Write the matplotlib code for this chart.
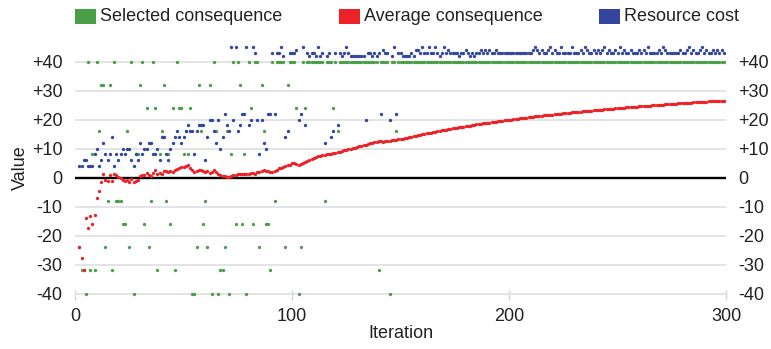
"""Selected consequence / average consequence / resource cost per iteration."""

import matplotlib
matplotlib.use("Agg")
import matplotlib.pyplot as plt
from matplotlib.patches import Rectangle

plt.rcParams["font.family"] = ["Liberation Sans", "DejaVu Sans"]

FIRST_ITER = 2
LAST_ITER = 299

# values, one per iteration (2..299), rows of 10 from i=10
SELECTED = [
    -24, -32, -32, -40, 40, -32, 8, -32,
    40, 16, 32, 32, -24, -8, 32, -32, 40, -8,
    -8, -8, -16, -16, 16, -24, 40, -40, 8, 8,
    32, 40, -16, 24, -24, -8, 40, 24, -32, 8,
    16, 32, -8, 8, -16, 24, -32, 40, 24, 24,
    8, 16, 8, 24, -40, -40, -24, 32, 16, -16,
    -8, -24, 32, -40, 40, 16, -40, -32, -32, -24,
    16, -40, 8, 40, -16, 40, 32, -16, 8, -40,
    40, 24, -16, 40, 40, -24, 32, 16, -16, -16,
    -32, 40, -8, 40, 40, 40, 40, -24, 32, 40,
    40, 40, 24, -40, -24, 40, 24, 40, 40, 40,
    40, 40, 40, 40, 40, -8, 40, 40, 40, 24,
    40, 16, 40, 40, 40, 40, 40, 40, 40, 40,
    40, 40, 40, 40, 40, 40, 40, 40, 40, 40,
    -32, 40, 40, 40, 40, -40, 40, 40, 16, 40,
    40, 40, 40, 40, 40, 40, 40, 40, 40, 40,
    40, 40, 40, 40, 40, 40, 40, 40, 40, 40,
    40, 40, 40, 40, 40, 40, 40, 40, 40, 40,
    40, 40, 40, 40, 40, 40, 40, 40, 40, 40,
    40, 40, 40, 40, 40, 40, 40, 40, 40, 40,
    40, 40, 40, 40, 40, 40, 40, 40, 40, 40,
    40, 40, 40, 40, 40, 40, 40, 40, 40, 40,
    40, 40, 40, 40, 40, 40, 40, 40, 40, 40,
    40, 40, 40, 40, 40, 40, 40, 40, 40, 40,
    40, 40, 40, 40, 40, 40, 40, 40, 40, 40,
    40, 40, 40, 40, 40, 40, 40, 40, 40, 40,
    40, 40, 40, 40, 40, 40, 40, 40, 40, 40,
    40, 40, 40, 40, 40, 40, 40, 40, 40, 40,
    40, 40, 40, 40, 40, 40, 40, 40, 40, 40,
    40, 40, 40, 40, 40, 40, 40, 40, 40, 40,
]

AVERAGE = [
    -23.8, -27.8, -31.8, -14.0, -17.4, -13.4, -15.9, -12.8,
    -7.0, -4.7, -1.5, 1.3, -0.7, -1.0, 1.0, -1.0, 1.3, 0.8,
    0.2, -0.1, -0.7, -1.3, -0.7, -1.6, -0.5, -1.6, -1.3, -0.7,
    0.5, 1.0, 0.8, 1.6, 1.0, 0.5, 1.6, 2.5, 1.4, 1.6,
    1.4, 2.2, 2.2, 1.9, 2.4, 2.0, 2.5, 3.0, 3.3, 3.5,
    3.7, 3.9, 4.2, 3.3, 2.5, 2.0, 2.2, 2.8, 2.8, 2.3,
    2.1, 2.2, 1.7, 2.1, 2.5, 1.8, 1.4, 1.0, 0.5, 0.5,
    0.3, 0.1, 0.5, 0.8, 0.8, 1.3, 1.4, 1.3, 1.4, 1.1,
    1.4, 1.6, 1.5, 1.4, 2.0, 2.1, 2.3, 2.5, 2.4, 2.2,
    2.0, 2.1, 2.3, 2.8, 3.2, 3.4, 3.7, 4.0, 4.3, 4.5,
    4.9, 5.1, 4.7, 4.3, 4.6, 5.0, 5.4, 5.8, 6.1, 6.5,
    6.9, 7.2, 7.3, 7.5, 7.7, 7.8, 8.0, 8.1, 8.3, 8.5,
    8.6, 8.8, 8.9, 9.1, 9.4, 9.6, 9.8, 10.0, 10.2, 10.4,
    10.6, 10.8, 11.0, 11.2, 11.4, 11.6, 11.8, 12.0, 12.2, 12.4,
    12.6, 12.7, 12.4, 12.6, 12.8, 12.7, 12.9, 13.0, 13.1, 13.2,
    13.29, 13.46, 13.64, 13.81, 13.98, 14.15, 14.31, 14.48, 14.64, 14.80,
    14.96, 15.11, 15.27, 15.42, 15.57, 15.72, 15.86, 16.01, 16.15, 16.29,
    16.43, 16.57, 16.70, 16.84, 16.97, 17.10, 17.23, 17.36, 17.49, 17.61,
    17.74, 17.86, 17.98, 18.10, 18.22, 18.34, 18.46, 18.57, 18.69, 18.80,
    18.91, 19.02, 19.13, 19.24, 19.35, 19.45, 19.56, 19.66, 19.76, 19.86,
    19.96, 20.06, 20.16, 20.26, 20.36, 20.45, 20.55, 20.64, 20.74, 20.83,
    20.92, 21.01, 21.10, 21.19, 21.27, 21.36, 21.45, 21.53, 21.62, 21.70,
    21.79, 21.87, 21.95, 22.03, 22.11, 22.19, 22.27, 22.35, 22.42, 22.50,
    22.58, 22.65, 22.73, 22.80, 22.88, 22.95, 23.02, 23.09, 23.16, 23.23,
    23.30, 23.37, 23.44, 23.51, 23.57, 23.64, 23.71, 23.77, 23.84, 23.90,
    23.97, 24.03, 24.09, 24.16, 24.22, 24.29, 24.35, 24.41, 24.47, 24.53,
    24.59, 24.65, 24.71, 24.76, 24.82, 24.88, 24.94, 24.99, 25.05, 25.10,
    25.16, 25.21, 25.27, 25.32, 25.38, 25.43, 25.48, 25.53, 25.59, 25.64,
    25.69, 25.74, 25.79, 25.84, 25.89, 25.94, 25.99, 26.04, 26.08, 26.13,
    26.18, 26.23, 26.28, 26.32, 26.37, 26.42, 26.46, 26.51, 26.55, 26.60,
]

RESOURCE = [
    4, 4, 6, 6, 4, 4, 4, 8,
    10, 4, 6, 12, 8, 6, 8, 14, 4, 8,
    6, 8, 10, 8, 10, 10, 6, 4, 8, 6,
    12, 8, 10, 10, 12, 12, 8, 8, 10, 6,
    14, 14, 8, 6, 10, 12, 14, 16, 14, 12,
    14, 16, 18, 16, 16, 8, 16, 18, 18, 18,
    6, 14, 20, 20, 16, 12, 20, 10, 14, 22,
    18, 16, 45, 20, 45, 16, 18, 22, 22, 45,
    18, 20, 45, 43, 20, 8, 20, 12, 10, 22,
    22, 43, 22, 43, 43, 45, 42, 14, 16, 43,
    43, 43, 44, 20, 22, 45, 18, 43, 42, 43,
    43, 42, 45, 42, 43, 12, 42, 43, 14, 16,
    43, 18, 43, 42, 43, 45, 43, 42, 42, 42,
    42, 42, 42, 42, 20, 43, 43, 42, 43, 42,
    43, 22, 44, 43, 43, 20, 42, 45, 22, 43,
    43, 42, 42, 42, 42, 43, 42, 44, 44, 43,
    45, 43, 43, 45, 43, 43, 45, 43, 42, 43,
    45, 43, 44, 43, 43, 43, 43, 42, 43, 43,
    44, 43, 42, 43, 42, 43, 43, 44, 43, 44,
    43, 44, 43, 43, 44, 43, 43, 43, 43, 43,
    43, 43, 43, 43, 43, 43, 43, 43, 43, 43,
    43, 44, 45, 44, 43, 44, 43, 43, 44, 45,
    43, 44, 43, 43, 45, 43, 43, 43, 43, 45,
    43, 43, 43, 44, 43, 45, 44, 43, 43, 44,
    43, 44, 43, 44, 45, 43, 44, 43, 43, 44,
    43, 45, 43, 44, 43, 43, 44, 43, 43, 43,
    44, 43, 44, 43, 45, 43, 43, 43, 43, 44,
    43, 45, 44, 43, 43, 43, 43, 43, 43, 44,
    43, 43, 44, 45, 43, 44, 43, 43, 44, 45,
    43, 44, 43, 43, 44, 43, 44, 43, 44, 43,
]

SERIES_NAMES = ["Selected consequence", "Average consequence", "Resource cost"]
SERIES_COLORS = ["#4a9e48", "#ec2227", "#33459f"]

X_TICKS = [0, 100, 200, 300]
Y_TICKS = [-40, -30, -20, -10, 0, 10, 20, 30, 40]
Y_TICK_LABELS = ["-40", "-30", "-20", "-10", "0", "+10", "+20", "+30", "+40"]

iterations = list(range(FIRST_ITER, LAST_ITER + 1))

fig = plt.figure(figsize=(7.71, 3.49), dpi=100)
ax = fig.add_axes([75 / 771, 54 / 349, 651 / 771, 255 / 349])

for k, (vals, color) in enumerate(zip([SELECTED, AVERAGE, RESOURCE], SERIES_COLORS)):
    ax.plot(iterations, vals, linestyle="none", marker="o", markersize=2.4,
            markeredgewidth=0, color=color, zorder=3 + k, clip_on=False)

ax.axhline(0, color="black", linewidth=1.7, zorder=2)
ax.set_xlim(0, 300)
ax.set_ylim(-40.5, 47.5)
ax.set_xticks(X_TICKS)
ax.set_yticks(Y_TICKS)
ax.set_yticklabels(Y_TICK_LABELS)
ax.grid(axis="y", color="#e2e2e2", linewidth=1.3, zorder=1)
for side in ("top", "bottom", "left", "right"):
    ax.spines[side].set_visible(False)
ax.tick_params(axis="y", length=0, pad=9, labelsize=13, colors="#222222",
               labelright=True)
ax.tick_params(axis="x", length=7, width=1, direction="inout", color="#d4d4d4",
               pad=6, labelsize=13, labelcolor="#222222")
ax.set_xlabel("Iteration", fontsize=13, color="#222222", labelpad=0)
ax.set_ylabel("Value", fontsize=13, color="#222222", labelpad=2)

# legend drawn by hand along the top edge
legend_x = [75, 339, 599]
for x0, name, color in zip(legend_x, SERIES_NAMES, SERIES_COLORS):
    fig.add_artist(Rectangle((x0 / 771, (349 - 24) / 349), 21 / 771, 15 / 349,
                             transform=fig.transFigure, facecolor=color,
                             edgecolor="none"))
    fig.text((x0 + 25) / 771, (349 - 16.5) / 349, name, fontsize=13,
             color="#222222", va="center", ha="left")

fig.savefig("out.png", dpi=100)
